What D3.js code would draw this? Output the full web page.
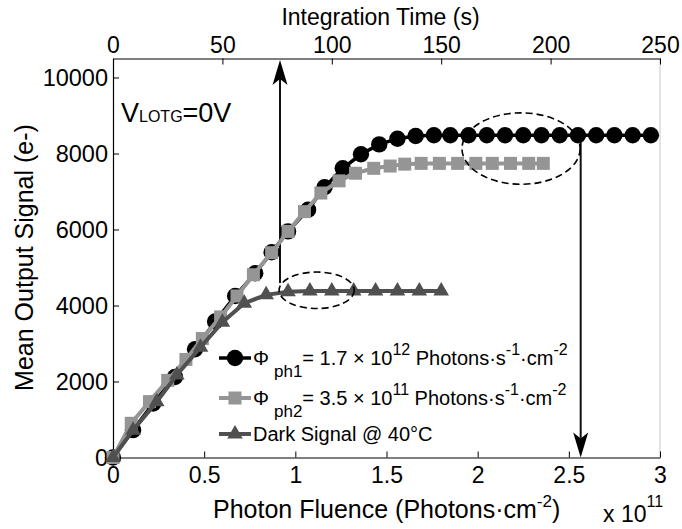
<!DOCTYPE html>
<html>
<head>
<meta charset="utf-8">
<script src="https://cdn.jsdelivr.net/npm/d3@7"></script>
<style>
  html, body { margin: 0; padding: 0; background: #fff; }
  svg text { font-family: 'Liberation Sans', Arial, sans-serif; fill: #000; }
</style>
</head>
<body>
<div class="chart-box"></div>
<script>
// ===================== DATA ===================== //
// photon fluence in units of 1e11 photons/cm^2, signal in e-
const fluencePh1 = [0, 0.11, 0.22, 0.34, 0.45, 0.56, 0.67, 0.78, 0.87, 0.96, 1.07, 1.16, 1.26, 1.36, 1.46,
  1.56, 1.66, 1.76, 1.85, 1.95, 2.05, 2.15, 2.25, 2.35, 2.45, 2.55, 2.65, 2.75, 2.85, 2.95];
const signalPh1 = [0, 720, 1420, 2120, 2850, 3580, 4250, 4850, 5400, 5950, 6520, 7110, 7610, 7980, 8240,
  8390, 8460, 8480, 8480, 8480, 8480, 8480, 8480, 8480, 8480, 8480, 8480, 8480, 8480, 8480];

const fluencePh2 = [0, 0.10, 0.20, 0.30, 0.40, 0.49, 0.59, 0.68, 0.77, 0.87, 0.96, 1.05, 1.14, 1.24, 1.33,
  1.43, 1.52, 1.60, 1.69, 1.79, 1.89, 1.99, 2.08, 2.18, 2.28, 2.36];
const signalPh2 = [0, 900, 1470, 2030, 2580, 3130, 3700, 4250, 4810, 5390, 5950, 6470, 6960, 7280, 7480,
  7610, 7670, 7720, 7740, 7740, 7740, 7740, 7740, 7740, 7740, 7740];

const fluenceDark = [0, 0.11, 0.24, 0.35, 0.48, 0.60, 0.72, 0.84, 0.96, 1.08, 1.20, 1.32, 1.44, 1.56, 1.68, 1.80];
const signalDark = [0, 720, 1470, 2170, 2900, 3560, 4060, 4280, 4360, 4380, 4380, 4380, 4380, 4380, 4380, 4380];

const fluenceTicks = [0, 0.5, 1, 1.5, 2, 2.5, 3];
const timeTicks = [0, 50, 100, 150, 200, 250];
const signalTicks = [0, 2000, 4000, 6000, 8000, 10000];

// annotations (data coords)
const arrowUp = { x: 0.916, from: 4590, to: 10460 };
const arrowDown = { x: 2.565, from: 8480, to: 0 };
const ellipses = [
  { cx: 2.238, cy: 8130, rx: 0.324, ry: 940 },
  { cx: 1.117, cy: 4400, rx: 0.206, ry: 480 },
];

const dimensions = { width: 682, height: 529 };
const plot = { left: 113, right: 660, top: 58.5, bottom: 457.5 };

const colors = { ph1: '#000000', ph2: '#959595', dark: '#505050' };

const svg = d3
  .select('.chart-box')
  .append('svg')
  .attr('width', dimensions.width)
  .attr('height', dimensions.height);

svg.append('rect').attr('width', dimensions.width).attr('height', dimensions.height).attr('fill', '#fff');

const x = d3.scaleLinear().domain([0, 3]).range([plot.left, plot.right]);
const xTop = d3.scaleLinear().domain([0, 250]).range([plot.left, plot.right]);
const y = d3.scaleLinear().domain([0, 10500]).range([plot.bottom, plot.top]);

// ===================== AXES ===================== //
// right border, faint
svg.append('line')
  .attr('x1', plot.right).attr('x2', plot.right)
  .attr('y1', plot.top).attr('y2', plot.bottom)
  .attr('stroke', '#c8c8c8').attr('stroke-width', 1);

const styleAxis = (g, size) => {
  g.select('.domain').attr('stroke', '#000').attr('stroke-width', 1.2);
  g.selectAll('.tick line').attr('stroke', '#000').attr('stroke-width', 1);
  g.selectAll('.tick text').attr('font-size', size).attr('fill', '#000')
    .attr('font-family', "'Liberation Sans', Arial, sans-serif");
};

svg.append('g')
  .attr('transform', `translate(0, ${plot.bottom})`)
  .call(d3.axisBottom(x).tickValues(fluenceTicks).tickFormat((d) => String(d))
    .tickSizeInner(-6).tickSizeOuter(0).tickPadding(9))
  .call((g) => styleAxis(g, 23));

svg.append('g')
  .attr('transform', `translate(0, ${plot.top})`)
  .call(d3.axisTop(xTop).tickValues(timeTicks).tickFormat((d) => String(d))
    .tickSizeInner(-6).tickSizeOuter(0).tickPadding(6))
  .call((g) => styleAxis(g, 23));

svg.append('g')
  .attr('transform', `translate(${plot.left}, 0)`)
  .call(d3.axisLeft(y).tickValues(signalTicks).tickFormat((d) => String(d))
    .tickSizeInner(-6).tickSizeOuter(0).tickPadding(5))
  .call((g) => styleAxis(g, 23.5));

// axis titles
svg.append('text')
  .attr('x', 380.5).attr('y', 25)
  .attr('text-anchor', 'middle').attr('font-size', 23)
  .text('Integration Time (s)');

svg.append('text')
  .attr('transform', 'translate(33, 257.5) rotate(-90)')
  .attr('text-anchor', 'middle').attr('font-size', 25)
  .text('Mean Output Signal (e-)');

const xLabel = svg.append('text')
  .attr('x', 213).attr('y', 518).attr('font-size', 25);
xLabel.append('tspan').text('Photon Fluence (Photons\u00b7cm');
xLabel.append('tspan').attr('font-size', 17).attr('dy', -11).text('-2');
xLabel.append('tspan').attr('dy', 11).text(')');

const xScale = svg.append('text').attr('x', 603).attr('y', 522).attr('font-size', 23);
xScale.append('tspan').text('x 10');
xScale.append('tspan').attr('font-size', 16).attr('dy', -15).text('11');

// V_LOTG label
const vLabel = svg.append('text').attr('x', 121).attr('y', 122).attr('font-size', 27);
vLabel.append('tspan').text('V');
vLabel.append('tspan').attr('font-size', 16).text('LOTG');
vLabel.append('tspan').text('=0V');

// ===================== ANNOTATION ARROWS ===================== //
const arrowHead = (tipX, tipY, dir) => {
  // dir = -1 pointing up, 1 pointing down
  const len = 25, notch = 19, half = 7.5;
  return `M${tipX},${tipY} L${tipX - half},${tipY - dir * len} L${tipX},${tipY - dir * notch} L${tipX + half},${tipY - dir * len} Z`;
};

[arrowUp, arrowDown].forEach((a) => {
  const dir = a.to > a.from ? -1 : 1;
  const tipY = y(a.to);
  svg.append('line')
    .attr('x1', x(a.x)).attr('x2', x(a.x))
    .attr('y1', y(a.from)).attr('y2', tipY - dir * 19)
    .attr('stroke', '#111').attr('stroke-width', 2);
  svg.append('path')
    .attr('d', arrowHead(x(a.x), tipY, dir))
    .attr('fill', '#000');
});

// ===================== SERIES ===================== //
const lineGen = d3.line().x((d) => x(d[0])).y((d) => y(d[1]));

const ph1 = d3.zip(fluencePh1, signalPh1);
const ph2 = d3.zip(fluencePh2, signalPh2);
const dark = d3.zip(fluenceDark, signalDark);

svg.append('path').datum(ph1).attr('d', lineGen)
  .attr('fill', 'none').attr('stroke', colors.ph1).attr('stroke-width', 3.5);
svg.selectAll('.m-ph1').data(ph1).enter().append('circle')
  .attr('class', 'm-ph1')
  .attr('cx', (d) => x(d[0])).attr('cy', (d) => y(d[1]))
  .attr('r', 8.2).attr('fill', colors.ph1);

svg.append('path').datum(ph2).attr('d', lineGen)
  .attr('fill', 'none').attr('stroke', colors.ph2).attr('stroke-width', 4);
svg.selectAll('.m-ph2').data(ph2).enter().append('rect')
  .attr('class', 'm-ph2')
  .attr('x', (d) => x(d[0]) - 6.5).attr('y', (d) => y(d[1]) - 6.5)
  .attr('width', 13).attr('height', 13).attr('fill', colors.ph2);

const triangle = d3.symbol().type(d3.symbolTriangle).size(105);
svg.append('path').datum(dark).attr('d', lineGen)
  .attr('fill', 'none').attr('stroke', colors.dark).attr('stroke-width', 4);
svg.selectAll('.m-dark').data(dark).enter().append('path')
  .attr('class', 'm-dark')
  .attr('transform', (d) => `translate(${x(d[0])}, ${y(d[1])})`)
  .attr('d', triangle).attr('fill', colors.dark);

// dashed ellipses on top
ellipses.forEach((e) => {
  svg.append('ellipse')
    .attr('cx', x(e.cx)).attr('cy', y(e.cy))
    .attr('rx', x(e.rx) - x(0)).attr('ry', y(0) - y(e.ry))
    .attr('fill', 'none').attr('stroke', '#000')
    .attr('stroke-width', 1.6).attr('stroke-dasharray', '7,4');
});

// ===================== LEGEND ===================== //
const legendRows = [
  { key: 'ph1', sub: 'ph1', value: '= 1.7 \u00d7 10', exp: '12' },
  { key: 'ph2', sub: 'ph2', value: '= 3.5 \u00d7 10', exp: '11' },
  { key: 'dark', label: 'Dark Signal @ 40\u00b0C' },
];
const legendY = [358, 398, 434];

legendRows.forEach((row, i) => {
  const cy = legendY[i];
  const g = svg.append('g');
  g.append('line').attr('x1', 219).attr('x2', 251).attr('y1', cy).attr('y2', cy)
    .attr('stroke', colors[row.key]).attr('stroke-width', row.key === 'ph1' ? 3.5 : 4);
  if (row.key === 'ph1') {
    g.append('circle').attr('cx', 235).attr('cy', cy).attr('r', 8.2).attr('fill', colors.ph1);
  } else if (row.key === 'ph2') {
    g.append('rect').attr('x', 228.5).attr('y', cy - 6.5).attr('width', 13).attr('height', 13).attr('fill', colors.ph2);
  } else {
    g.append('path').attr('transform', `translate(235, ${cy})`).attr('d', triangle).attr('fill', colors.dark);
  }

  const base = cy + 7;
  if (row.label) {
    g.append('text').attr('x', 253).attr('y', base).attr('font-size', 20).text(row.label);
    return;
  }
  // one flowing text so the pieces never overlap
  const t = g.append('text').attr('x', 253).attr('y', base).attr('font-size', 20);
  t.append('tspan').text('\u03a6');
  t.append('tspan').attr('dx', 5).attr('dy', 12).attr('font-size', 17).text(row.sub);
  t.append('tspan').attr('dy', -12).text(row.value);
  t.append('tspan').attr('dy', -10).attr('font-size', 16).text(row.exp);
  t.append('tspan').attr('dy', 10).text(' Photons\u00b7s');
  t.append('tspan').attr('dy', -10).attr('font-size', 16).text('-1');
  t.append('tspan').attr('dy', 10).text('\u00b7cm');
  t.append('tspan').attr('dy', -10).attr('font-size', 16).text('-2');
});
</script>
</body>
</html>
